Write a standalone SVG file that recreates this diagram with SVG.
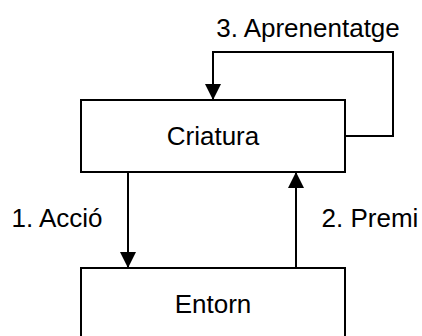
<svg xmlns="http://www.w3.org/2000/svg" width="422" height="336" viewBox="0 0 422 336">
<style>
.box{fill:#fff;stroke:#000;stroke-width:2}
.lbl{font-family:"Liberation Sans",Arial,sans-serif;font-size:26px;fill:#000}
.conn{fill:none;stroke:#000;stroke-width:2}
</style>
<defs>
<marker id="ah" markerUnits="userSpaceOnUse" markerWidth="16" markerHeight="16" viewBox="0 0 16 16" refX="16" refY="8" orient="auto">
<path d="M0,0 L16,8 L0,16 Z" fill="#000"/>
</marker>
</defs>
<rect width="422" height="336" fill="#fff"/>
<g id="criatura">
<rect class="box" x="81" y="100" width="264" height="72"/>
<text class="lbl" x="213" y="145" text-anchor="middle">Criatura</text>
</g>
<g id="entorn">
<rect class="box" x="81" y="268" width="264" height="72"/>
<text class="lbl" x="213" y="313" text-anchor="middle">Entorn</text>
</g>
<g id="connectors">
<path class="conn" d="M345,136 H393 V52 H213 V100" marker-end="url(#ah)"/>
<path class="conn" d="M128,172 V268" marker-end="url(#ah)"/>
<path class="conn" d="M296,268 V172" marker-end="url(#ah)"/>
<text class="lbl" x="308" y="37" text-anchor="middle">3. Aprenentatge</text>
<text class="lbl" x="57" y="227" text-anchor="middle">1. Acció</text>
<text class="lbl" x="370" y="227" text-anchor="middle">2. Premi</text>
</g>
</svg>
